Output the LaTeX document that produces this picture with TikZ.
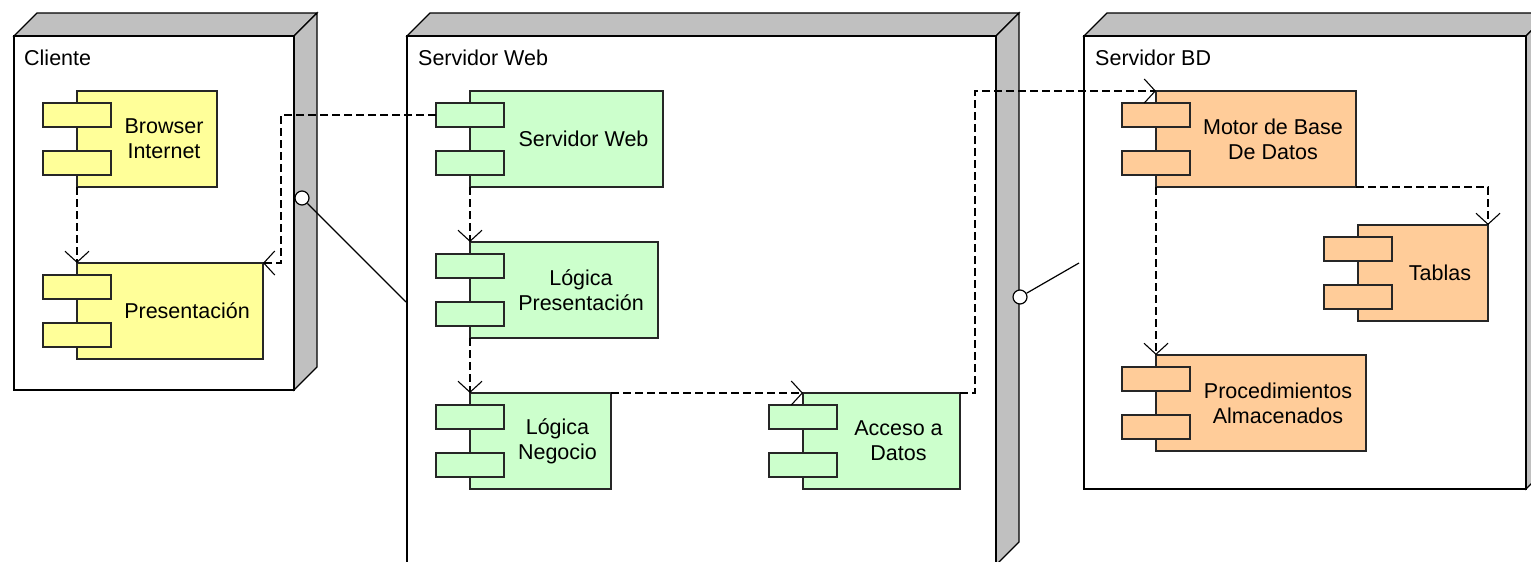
\documentclass[tikz,border=0pt]{standalone}
\usepackage{fontspec}
\setmainfont{Liberation Sans}
\usetikzlibrary{arrows.meta}
\definecolor{compyellow}{HTML}{FFFF99}
\definecolor{compgreen}{HTML}{CCFFCC}
\definecolor{comporange}{HTML}{FFCC99}
\definecolor{devgray}{HTML}{C0C0C0}
% component: name, left, top, width, colour, text
\newcommand{\comp}[6]{%
  \node[compbody, fill=#5, minimum width=#4pt, anchor=north west] (#1) at (#2,#3) {};
  \node[comptab, fill=#5] (#1-t1) at ([yshift=24pt]#1.west) {};
  \node[comptab, fill=#5] (#1-t2) at ([yshift=-24pt]#1.west) {};
  \node[align=center, xshift=17pt] (#1-txt) at (#1.center) {#6};
}
% deployment node: left, top, right, bottom
\newcommand{\devbox}[4]{%
  \filldraw[devside] (#1,#2) -- (#1+23,#2-23) -- (#3+23,#2-23) -- (#3,#2) -- cycle;
  \filldraw[devside] (#3,#2) -- (#3+23,#2-23) -- (#3+23,#4-23) -- (#3,#4) -- cycle;
  \filldraw[devfront] (#1,#2) rectangle (#3,#4);
}
\begin{document}
\begin{tikzpicture}[x=1pt,y=-1pt,
    every node/.style={font=\fontsize{21.5}{25}\selectfont},
    devside/.style={fill=devgray,draw=black,line width=1.2pt},
    devfront/.style={fill=white,draw=black,line width=1.2pt},
    compbody/.style={draw=black!85,line width=1.2pt,minimum height=96pt,inner sep=0pt,outer sep=0pt},
    comptab/.style={draw=black!85,line width=1.2pt,minimum width=68pt,minimum height=24pt,inner sep=0pt,outer sep=0pt},
    dep/.style={draw=black,line width=1.1pt,dash pattern=on 8pt off 4pt,-{Straight Barb[length=11pt,width=24pt]}},
    lolli/.style={circle,draw=black,fill=white,line width=1.2pt,minimum size=14pt,inner sep=0pt}]
  \clip (0,0) rectangle (1531,562);
  % nodes
  \devbox{14}{36}{294}{390}
  \devbox{407}{36}{996}{565}
  \devbox{1084}{36}{1526}{489}
  \node[anchor=base west, inner sep=0pt] (cliente) at (24,65) {Cliente};
  \node[anchor=base west, inner sep=0pt] (servweb) at (418,65) {Servidor Web};
  \node[anchor=base west, inner sep=0pt] (servbd) at (1095,65) {Servidor BD};
  % components
  \comp{browser}{77}{91}{140}{compyellow}{Browser\\Internet}
  \comp{pres}{77}{263}{186}{compyellow}{Presentación}
  \comp{websrv}{470}{91}{193}{compgreen}{Servidor Web}
  \comp{logpres}{470}{242}{188}{compgreen}{Lógica\\Presentación}
  \comp{lognego}{470}{393}{141}{compgreen}{Lógica\\Negocio}
  \comp{acceso}{803}{393}{157}{compgreen}{Acceso a\\Datos}
  \comp{motor}{1156}{91}{200}{comporange}{Motor de Base\\De Datos}
  \comp{tablas}{1358}{225}{130}{comporange}{Tablas}
  \comp{proc}{1156}{355}{210}{comporange}{Procedimientos\\Almacenados}
  % interfaces
  \node[lolli] (ifcli) at (302,198) {};
  \coordinate (webedge) at (406,302);
  \draw[line width=1.2pt] (ifcli) -- (webedge);
  \node[lolli] (ifweb) at (1020,297) {};
  \coordinate (bdedge) at (1079,263);
  \draw[line width=1.2pt] (ifweb) -- (bdedge);
  % dependencies
  \draw[dep] (browser.south west) -- (pres.north west);
  \draw[dep] (websrv-t1.west) -- ++(-155,0) |- (pres.north east);
  \draw[dep] (websrv.south west) -- (logpres.north west);
  \draw[dep] (logpres.south west) -- (lognego.north west);
  \draw[dep] (lognego.north east) -- (acceso.north west);
  \draw[dep] (acceso.north east) -- ++(15,0) |- (motor.north west);
  \draw[dep] (motor.south east) -| (tablas.north east);
  \draw[dep] (motor.south west) -- (proc.north west);
\end{tikzpicture}
\end{document}
